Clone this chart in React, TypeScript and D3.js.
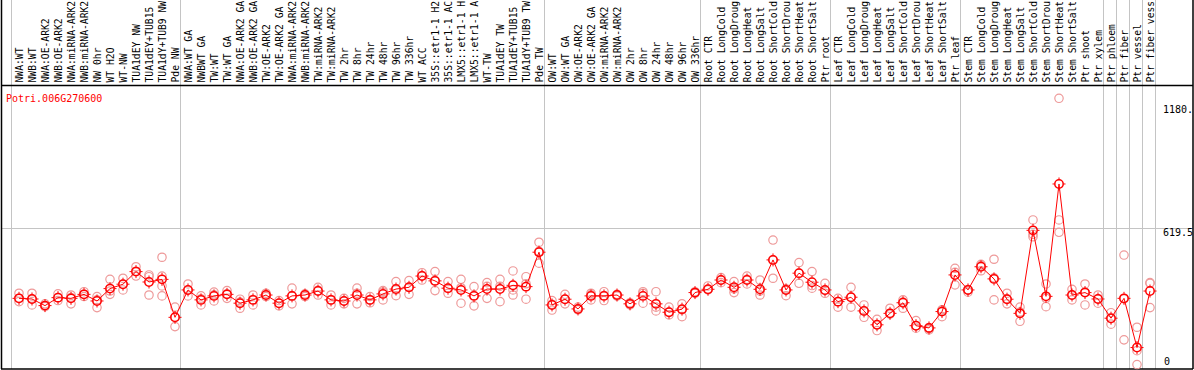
import React from "react";
import * as d3 from "d3";

const title = "Potri.006G270600";

const labels = [
  "NWA:WT", "NWB:WT", "NWA:OE-ARK2", "NWB:OE-ARK2", "NWA:miRNA-ARK2", "NWB:miRNA-ARK2",
  "NW 0hr", "WT H2O", "WT-NW", "TUA1dEY NW", "TUA1dEY+TUB15 NW", "TUA1dY+TUB9 NW", "Pde NW",
  "NWA:WT GA", "NWBWT GA", "TW:WT", "TW:WT GA", "NWA:OE-ARK2 GA", "NWB:OE-ARK2 GA",
  "TW:OE-ARK2", "TW:OE-ARK2 GA", "NWA:miRNA-ARK2 GA", "NWB:miRNA-ARK2 GA", "TW:miRNA-ARK2",
  "TW:miRNA-ARK2 GA", "TW 2hr", "TW 8hr", "TW 24hr", "TW 48hr", "TW 96hr", "TW 336hr",
  "WT ACC", "35S::etr1-1 H2O", "35S::etr1-1 ACC", "LMX5::etr1-1 H2O", "LMX5::etr1-1 ACC",
  "WT-TW", "TUA1dEY TW", "TUA1dEY+TUB15 TW", "TUA1dY+TUB9 TW", "Pde TW",
  "OW:WT", "OW:WT GA", "OW:OE-ARK2", "OW:OE-ARK2 GA", "OW:miRNA-ARK2", "OW:miRNA-ARK2 GA",
  "OW 2hr", "OW 8hr", "OW 24hr", "OW 48hr", "OW 96hr", "OW 336hr",
  "Root CTR", "Root LongCold", "Root LongDrought", "Root LongHeat", "Root LongSalt",
  "Root ShortCold", "Root ShortDrought", "Root ShortHeat", "Root ShortSalt", "Ptr root",
  "Leaf CTR", "Leaf LongCold", "Leaf LongDrought", "Leaf LongHeat", "Leaf LongSalt",
  "Leaf ShortCold", "Leaf ShortDrought", "Leaf ShortHeat", "Leaf ShortSalt", "Ptr leaf",
  "Stem CTR", "Stem LongCold", "Stem LongDrought", "Stem LongHeat", "Stem LongSalt",
  "Stem ShortCold", "Stem ShortDrought", "Stem ShortHeat", "Stem ShortSalt", "Ptr shoot", "Ptr xylem",
  "Ptr phloem", "Ptr fiber", "Ptr vessel", "Ptr fiber vessel",
];

const groupSizes = [13, 28, 12, 10, 10, 11, 1, 1, 1, 1];

const meanValues = [
  302, 299, 269, 305, 302, 320, 290, 346, 366, 423,
  376, 388, 216, 340, 295, 313, 320, 280, 295, 317,
  280, 313, 317, 335, 295, 290, 317, 295, 322, 344,
  352, 403, 381, 348, 340, 313, 344, 344, 361, 355,
  511, 272, 298, 254, 313, 313, 317, 277, 313, 277,
  239, 253, 328, 343, 385, 352, 385, 343, 476, 340,
  416, 375, 340, 287, 307, 245, 182, 234, 282, 178,
  168, 242, 408, 340, 445, 390, 298, 234, 610, 311,
  820, 317, 328, 299, 212, 302, 79, 335,
];

const replicateValues = [
  [325, 302, 287], [325, 272, 299], [277, 264, 269], [322, 292, 305], [317, 277, 305],
  [332, 310, 320], [310, 260, 295], [388, 320, 335], [393, 340, 366], [445, 403, 425],
  [408, 317, 400], [488, 403, 358, 313], [262, 174, 216], [367, 313, 340], [313, 272, 300],
  [330, 290, 318], [337, 302, 322], [298, 257, 285], [317, 272, 296], [325, 310, 317],
  [292, 268, 280], [348, 277, 313], [322, 310, 317], [352, 317, 338], [317, 272, 295],
  [302, 277, 290], [348, 277, 325], [310, 282, 295], [337, 295, 330], [378, 314, 340],
  [382, 320, 352], [418, 385, 405], [423, 337, 383], [378, 325, 348], [388, 280, 350],
  [355, 268, 315], [373, 302, 356], [388, 287, 357], [426, 317, 340], [400, 298, 368],
  [556, 461, 515], [292, 249, 275], [320, 277, 298], [262, 250, 254], [325, 295, 318],
  [332, 292, 315], [317, 312, 320], [277, 272, 282], [332, 280, 325], [332, 245, 262],
  [262, 227, 240], [277, 219, 250], [328, 325, 332], [358, 340, 343], [396, 373, 385],
  [378, 328, 345], [403, 367, 388], [385, 317, 335], [566, 393, 476], [314, 340, 345],
  [464, 370, 416], [423, 348, 360], [370, 325, 338], [302, 262, 287], [352, 262, 307],
  [272, 216, 245], [207, 156, 182], [257, 230, 234], [295, 257, 285], [201, 167, 178],
  [159, 170, 165], [249, 219, 250], [438, 363, 420], [330, 340, 342], [456, 427, 450],
  [479, 295, 395], [325, 277, 300], [262, 198, 240], [657, 581, 592], [367, 264, 302],
  [1208, 657, 601], [343, 295, 317], [367, 272, 330], [317, 280, 300], [237, 185, 210],
  [498, 114, 300], [171, 2, 65], [373, 260, 370],
];

const yTickValues = [0, 619.5, 1180];
const yTickLabels = ["0", "619.5", "1180."];
const gridValues = [619.5];

const W = 1194;
const H = 370;
const FONT = "'DejaVu Sans Mono', monospace";
const MAX_LABEL_CHARS = 14;

export default function App() {
  const x = d3.scaleBand<number>().domain(d3.range(labels.length)).range([11.5, 11.5 + 13 * labels.length]).padding(0);
  const cx = (i: number) => (x(i) as number) + 7.5;
  const y = d3.scaleLinear().domain([0, 1180]).range([365, 104.5]);

  const boundaries: number[] = [x(0) as number];
  let acc = 0;
  groupSizes.forEach((s) => {
    acc += s;
    boundaries.push(acc < labels.length ? (x(acc) as number) : (x(labels.length - 1) as number) + 13);
  });

  const line = d3.line<number>().x((_, i) => cx(i)).y((d) => y(d));

  const plotTop = 86;
  const plotBottom = 369;
  const plotRight = 1193;

  return (
    <svg
      width={W}
      height={H}
      style={{ position: "absolute", left: 0, top: 0, display: "block", background: "#fff" }}
      fontFamily={FONT}
    >
      <rect x={0} y={0} width={W} height={H} fill="#fff" />
      {boundaries.map((b, i) => (
        <line key={"b" + i} x1={b} x2={b} y1={0} y2={plotBottom} stroke="#c4c4c4" strokeWidth={1} />
      ))}
      {gridValues.map((v, i) => (
        <line key={"g" + i} x1={1} x2={plotRight} y1={Math.round(y(v)) + 0.5} y2={Math.round(y(v)) + 0.5} stroke="#c4c4c4" strokeWidth={1} />
      ))}
      {labels.map((l, i) => (
        <text
          key={"l" + i}
          transform={`translate(${cx(i) + 3.5},82.5) rotate(-90)`}
          fontSize={9.7}
          fill="#000"
        >
          {l.length > MAX_LABEL_CHARS ? l.slice(0, MAX_LABEL_CHARS).trimEnd() : l}
        </text>
      ))}
      <line x1={1.5} x2={1.5} y1={0} y2={plotBottom} stroke="#000" strokeWidth={1.5} />
      <line x1={plotRight} x2={plotRight} y1={0} y2={plotBottom} stroke="#000" strokeWidth={1.5} />
      <line x1={1} x2={plotRight} y1={plotTop - 0.5} y2={plotTop - 0.5} stroke="#000" strokeWidth={1.5} />
      <line x1={1} x2={plotRight} y1={plotBottom} y2={plotBottom} stroke="#000" strokeWidth={1.5} />
      <text x={6} y={102} fontSize={10} fill="#ff0000">{title}</text>
      {yTickValues.map((v, i) => (
        <text
          key={"y" + i}
          x={v === 0 ? 1164 : 1163}
          y={v === 0 ? y(v) : y(v) + 8}
          fontSize={10}
          fill="#000"
        >
          {yTickLabels[i]}
        </text>
      ))}
      {replicateValues.map((reps, i) =>
        reps.map((v, j) => (
          <circle key={`r${i}-${j}`} cx={cx(i)} cy={y(v)} r={4.2} fill="none" stroke="#ee9a9a" strokeWidth={1.2} />
        ))
      )}
      <path d={line(meanValues) || ""} fill="none" stroke="#ff0000" strokeWidth={1} />
      {meanValues.map((v, i) => {
        const px = cx(i);
        const py = y(v);
        return (
          <g key={"m" + i}>
            <circle cx={px} cy={py} r={4.2} fill="none" stroke="#ff0000" strokeWidth={1.5} />
            <line x1={px} x2={px} y1={py - 6.5} y2={py - 4.5} stroke="#ff0000" strokeWidth={1} />
            <line x1={px} x2={px} y1={py + 4.5} y2={py + 6.5} stroke="#ff0000" strokeWidth={1} />
            <line x1={px - 6.5} x2={px - 4.5} y1={py} y2={py} stroke="#ff0000" strokeWidth={1} />
            <line x1={px + 4.5} x2={px + 6.5} y1={py} y2={py} stroke="#ff0000" strokeWidth={1} />
          </g>
        );
      })}
    </svg>
  );
}
